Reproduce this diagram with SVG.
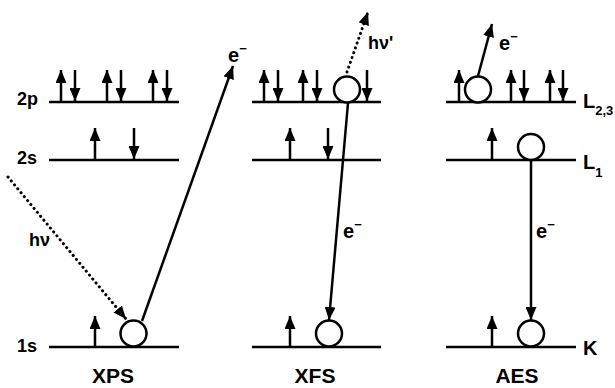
<svg xmlns="http://www.w3.org/2000/svg" width="615" height="388" viewBox="0 0 615 388">
<defs>
<marker id="ah" markerUnits="userSpaceOnUse" markerWidth="13" markerHeight="11" refX="13" refY="5.5" orient="auto"><path d="M0,0 L13,5.5 L0,11 z" fill="#000"/></marker>
<style>
.lvl{stroke:#000;stroke-width:2.5}
.sp{stroke:#000;stroke-width:2.5;marker-end:url(#ah)}
.ar{stroke:#000;stroke-width:2.5;marker-end:url(#ah);fill:none}
.dot{stroke:#000;stroke-width:3;stroke-dasharray:0.1 5;stroke-linecap:round;marker-end:url(#ah);fill:none}
.hole{fill:#fff;stroke:#000;stroke-width:2.5}
text{font-family:"Liberation Sans",Arial,sans-serif;font-weight:bold;fill:#000}
.lb{font-size:18px}
.el{font-size:20px}
.tt{font-size:21px;text-anchor:middle}
.sup{font-size:13px}
</style>
</defs>
<rect width="615" height="388" fill="#fff"/>
<g id="labels-left">
<text class="lb" x="17" y="105">2p</text>
<text class="lb" x="17" y="164">2s</text>
<text class="lb" x="17" y="352">1s</text>
</g>
<g id="xps">
<line class="lvl" x1="49" y1="102" x2="179" y2="102"/>
<line class="lvl" x1="49" y1="160" x2="179" y2="160"/>
<line class="lvl" x1="49" y1="347" x2="179" y2="347"/>
<line class="sp" x1="61" y1="102" x2="61" y2="70"/>
<line class="sp" x1="75" y1="70" x2="75" y2="101"/>
<line class="sp" x1="107" y1="102" x2="107" y2="70"/>
<line class="sp" x1="121" y1="70" x2="121" y2="101"/>
<line class="sp" x1="153" y1="102" x2="153" y2="70"/>
<line class="sp" x1="167" y1="70" x2="167" y2="101"/>
<line class="sp" x1="95" y1="160" x2="95" y2="128"/>
<line class="sp" x1="134" y1="128" x2="134" y2="159"/>
<line class="sp" x1="95" y1="347" x2="95" y2="316"/>
<circle class="hole" cx="133.5" cy="333.5" r="13"/>
<text class="tt" x="113" y="383">XPS</text>
</g>
<g id="xfs">
<line class="lvl" x1="252" y1="102" x2="381" y2="102"/>
<line class="lvl" x1="252" y1="160" x2="381" y2="160"/>
<line class="lvl" x1="252" y1="347" x2="381" y2="347"/>
<line class="sp" x1="264" y1="102" x2="264" y2="70"/>
<line class="sp" x1="278" y1="70" x2="278" y2="101"/>
<line class="sp" x1="303" y1="102" x2="303" y2="70"/>
<line class="sp" x1="317" y1="70" x2="317" y2="101"/>
<line class="sp" x1="367" y1="70" x2="367" y2="101"/>
<line class="sp" x1="290" y1="160" x2="290" y2="128"/>
<line class="sp" x1="328" y1="128" x2="328" y2="159"/>
<line class="sp" x1="290" y1="347" x2="290" y2="316"/>
<circle class="hole" cx="347" cy="89.5" r="13"/>
<circle class="hole" cx="329" cy="333.5" r="13"/>
<text class="tt" x="315" y="383">XFS</text>
</g>
<g id="aes">
<line class="lvl" x1="446" y1="102" x2="576" y2="102"/>
<line class="lvl" x1="446" y1="160" x2="576" y2="160"/>
<line class="lvl" x1="446" y1="347" x2="576" y2="347"/>
<line class="sp" x1="459" y1="102" x2="459" y2="70"/>
<line class="sp" x1="511" y1="102" x2="511" y2="70"/>
<line class="sp" x1="524" y1="70" x2="524" y2="101"/>
<line class="sp" x1="550" y1="102" x2="550" y2="70"/>
<line class="sp" x1="563" y1="70" x2="563" y2="101"/>
<line class="sp" x1="492" y1="160" x2="492" y2="128"/>
<line class="sp" x1="492" y1="347" x2="492" y2="316"/>
<circle class="hole" cx="478" cy="89.5" r="13"/>
<circle class="hole" cx="531" cy="147" r="13"/>
<circle class="hole" cx="531" cy="333.5" r="13"/>
<text class="el" x="583" y="108">L<tspan dy="7" font-size="13">2,3</tspan></text>
<text class="el" x="583" y="169">L<tspan dy="8" font-size="13">1</tspan></text>
<text class="el" x="583" y="355">K</text>
<text class="tt" x="517" y="383">AES</text>
</g>
<g id="connectors">
<line class="ar" x1="142" y1="321" x2="233" y2="66"/>
<line class="dot" x1="8" y1="177" x2="126" y2="319"/>
<line class="ar" x1="348" y1="103" x2="329" y2="320"/>
<line class="dot" x1="347" y1="72" x2="368" y2="12"/>
<line class="ar" x1="478" y1="76" x2="492" y2="24"/>
<line class="ar" x1="531" y1="160" x2="531" y2="320"/>
</g>
<g id="conn-labels">
<text class="el" x="228" y="62">e<tspan class="sup" dy="-9">−</tspan></text>
<text class="lb" x="29" y="246">hν</text>
<text class="el" x="343" y="238">e<tspan class="sup" dy="-9">−</tspan></text>
<text class="lb" x="368" y="49">hν'</text>
<text class="el" x="499" y="50">e<tspan class="sup" dy="-9">−</tspan></text>
<text class="el" x="536" y="238">e<tspan class="sup" dy="-9">−</tspan></text>
</g>
</svg>
